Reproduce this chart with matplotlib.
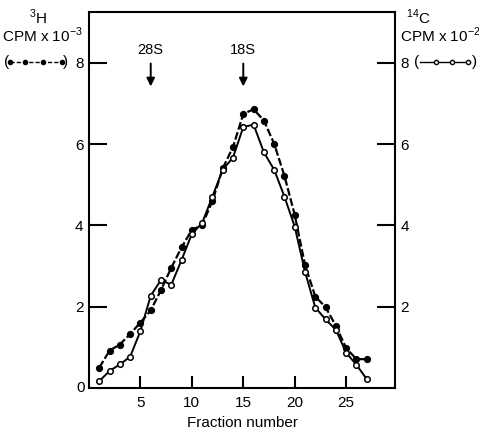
import matplotlib
matplotlib.use("Agg")
import matplotlib.pyplot as plt
from matplotlib.lines import Line2D

plt.rcParams['font.family'] = ['Liberation Sans', 'DejaVu Sans']
plt.rcParams['mathtext.fontset'] = 'custom'
plt.rcParams['mathtext.rm'] = 'Liberation Sans'

fractions = list(range(1, 28))
h3_cpm = [0.50, 0.92, 1.07, 1.33, 1.61, 1.91, 2.41, 2.96, 3.46, 3.89, 4.01, 4.60, 5.40,
          5.93, 6.74, 6.86, 6.58, 6.01, 5.22, 4.26, 3.03, 2.25, 1.99, 1.53, 0.98, 0.71, 0.71]
c14_cpm = [0.17, 0.42, 0.58, 0.77, 1.40, 2.27, 2.66, 2.54, 3.15, 3.79, 4.06, 4.71, 5.37,
           5.67, 6.42, 6.48, 5.80, 5.37, 4.71, 3.97, 2.86, 1.98, 1.69, 1.43, 0.87, 0.57, 0.22]
x_ticks = [5, 10, 15, 20, 25]
y_ticks = [2, 4, 6, 8]
markers_pos = [6, 15]
markers_lbl = ['28S', '18S']

W, H = 479, 432
fig = plt.figure(figsize=(W / 100, H / 100), dpi=100)
ax = fig.add_axes([89 / W, 1 - 388 / H, (395 - 89) / W, (388 - 12) / H])
ax.set_xlim(0, 29.75)
ax.set_ylim(0, 9.25)

ax.plot(fractions, h3_cpm, color='black', lw=1.6, ls=(0, (3.5, 1.2)),
        marker='o', ms=4.2, mfc='black', mec='black', zorder=3)
ax.plot(fractions, c14_cpm, color='black', lw=1.4, ls='-',
        marker='o', ms=4.0, mfc='white', mec='black', mew=1.1, zorder=3)

for s in ax.spines.values():
    s.set_linewidth(1.5)

ax.set_xticks(x_ticks)
ax.set_xticklabels([str(v) for v in x_ticks], fontsize=11)
ax.tick_params(axis='x', direction='in', length=9, width=1.5, pad=6)
ax.set_yticks(y_ticks)
ax.set_yticklabels([str(v) for v in y_ticks], fontsize=11)
ax.tick_params(axis='y', direction='in', length=13, width=1.5, pad=4,
               left=True, right=True, labelleft=True, labelright=True)
ax.text(-0.015, 0, '0', transform=ax.get_yaxis_transform(), ha='right', va='center', fontsize=11)
ax.set_xlabel('Fraction number', fontsize=11, labelpad=4)

for p, l in zip(markers_pos, markers_lbl):
    ax.annotate('', xy=(p, 7.35), xytext=(p, 8.05),
                arrowprops=dict(arrowstyle='-|>', color='black', lw=1.4, mutation_scale=12))
    ax.text(p, 8.15, l, ha='center', va='bottom', fontsize=10.5)

# header annotations
fig.text(38 / W, 1 - 17 / H, r'$^{\mathregular{3}}$H', ha='center', va='center', fontsize=11)
fig.text(42 / W, 1 - 35 / H, r'CPM x 10$^{\mathregular{-3}}$', ha='center', va='center', fontsize=11)
fig.text(4 / W, 1 - 62 / H, '(', ha='left', va='center', fontsize=11)
fig.text(63 / W, 1 - 62 / H, ')', ha='left', va='center', fontsize=11)
fig.add_artist(Line2D([10 / W, 62 / W], [1 - 62 / H, 1 - 62 / H], color='black', lw=1.0,
                      ls=(0, (3, 1.5)), marker='o', ms=3, mfc='black', markevery=[0, 1],
                      transform=fig.transFigure))
fig.add_artist(Line2D([25 / W, 43 / W], [1 - 62 / H, 1 - 62 / H], color='black', lw=0,
                      marker='o', ms=3, mfc='black', transform=fig.transFigure))

fig.text(418 / W, 1 - 17 / H, r'$^{\mathregular{14}}$C', ha='center', va='center', fontsize=11)
fig.text(440 / W, 1 - 35 / H, r'CPM x 10$^{\mathregular{-2}}$', ha='center', va='center', fontsize=11)
fig.text(414 / W, 1 - 62 / H, '(', ha='left', va='center', fontsize=11)
fig.text(472 / W, 1 - 62 / H, ')', ha='left', va='center', fontsize=11)
fig.add_artist(Line2D([420 / W, 470 / W], [1 - 62 / H, 1 - 62 / H], color='black', lw=1.0,
                      transform=fig.transFigure))
fig.add_artist(Line2D([436 / W, 452 / W, 468 / W], [1 - 62 / H] * 3, color='black', lw=0,
                      marker='o', ms=3, mfc='white', mec='black', transform=fig.transFigure))

fig.savefig('out.png', dpi=100)
